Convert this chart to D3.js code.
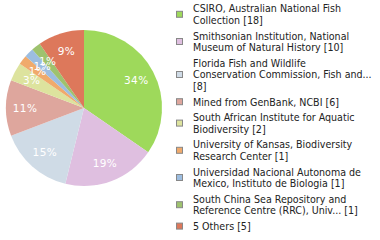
<!DOCTYPE html>
<html>
<head>
<meta charset="utf-8">
<script src="https://cdn.jsdelivr.net/npm/d3@7"></script>
<style>
  body { margin: 0; background: #fff; }
  svg { display: block; }
  .legend text { font-family: "DejaVu Sans Condensed", "DejaVu Sans", sans-serif; font-size: 10.6px; fill: #222; }
  .slice-label { font-family: "DejaVu Sans", sans-serif; font-size: 10.5px; fill: #fff; letter-spacing: 0.4px; }
</style>
</head>
<body>
<svg id="chart" width="380" height="240"></svg>
<script>
  const categories = [
    "CSIRO, Australian National Fish Collection",
    "Smithsonian Institution, National Museum of Natural History",
    "Florida Fish and Wildlife Conservation Commission, Fish and...",
    "Mined from GenBank, NCBI",
    "South African Institute for Aquatic Biodiversity",
    "University of Kansas, Biodiversity Research Center",
    "Universidad Nacional Autonoma de Mexico, Instituto de Biologia",
    "South China Sea Repository and Reference Centre (RRC), Univ...",
    "5 Others"
  ];
  const counts = [18, 10, 8, 6, 2, 1, 1, 1, 5];
  const legendLines = [
    ["CSIRO, Australian National Fish", "Collection [18]"],
    ["Smithsonian Institution, National", "Museum of Natural History [10]"],
    ["Florida Fish and Wildlife", "Conservation Commission, Fish and...", "[8]"],
    ["Mined from GenBank, NCBI [6]"],
    ["South African Institute for Aquatic", "Biodiversity [2]"],
    ["University of Kansas, Biodiversity", "Research Center [1]"],
    ["Universidad Nacional Autonoma de", "Mexico, Instituto de Biologia [1]"],
    ["South China Sea Repository and", "Reference Centre (RRC), Univ... [1]"],
    ["5 Others [5]"]
  ];
  const colors = ["#9ed95b", "#dfbfe0", "#cfdbe6", "#dea69d", "#dde39e",
                  "#f0aa6c", "#9cbde0", "#9ec26e", "#dd785b"];

  const svg = d3.select("#chart");
  const cx = 84, cy = 108, radius = 78, labelRadius = 59;
  const total = d3.sum(counts);

  const pie = d3.pie().sort(null).value(d => d);
  const arcs = pie(counts);
  const arc = d3.arc().innerRadius(0).outerRadius(radius);
  const labelArc = d3.arc().innerRadius(labelRadius).outerRadius(labelRadius);

  const g = svg.append("g").attr("transform", `translate(${cx},${cy})`);

  g.selectAll("path")
    .data(arcs)
    .join("path")
    .attr("d", arc)
    .attr("fill", (d, i) => colors[i]);

  g.selectAll("text")
    .data(arcs)
    .join("text")
    .attr("class", "slice-label")
    .attr("transform", d => `translate(${labelArc.centroid(d)})`)
    .attr("text-anchor", "middle")
    .attr("dy", "0.36em")
    .text(d => Math.floor(d.value / total * 100) + "%");

  // legend: entries stacked, swatch centred on each block
  const lineH = 11.6, gap = 4, firstY = 8.5;
  const legend = svg.append("g").attr("class", "legend");
  let y = firstY;
  legendLines.forEach((lines, i) => {
    const mid = y + (lines.length - 1) * lineH / 2;
    legend.append("rect")
      .attr("x", 176.5).attr("y", mid - 3)
      .attr("width", 6).attr("height", 6)
      .attr("fill", colors[i])
      .attr("stroke", "#888");
    legend.append("text")
      .attr("x", 193)
      .selectAll("tspan")
      .data(lines)
      .join("tspan")
      .attr("x", 193)
      .attr("y", (d, j) => y + j * lineH + 3.8)
      .text(d => d);
    y += lines.length * lineH + gap;
  });
</script>
</body>
</html>
